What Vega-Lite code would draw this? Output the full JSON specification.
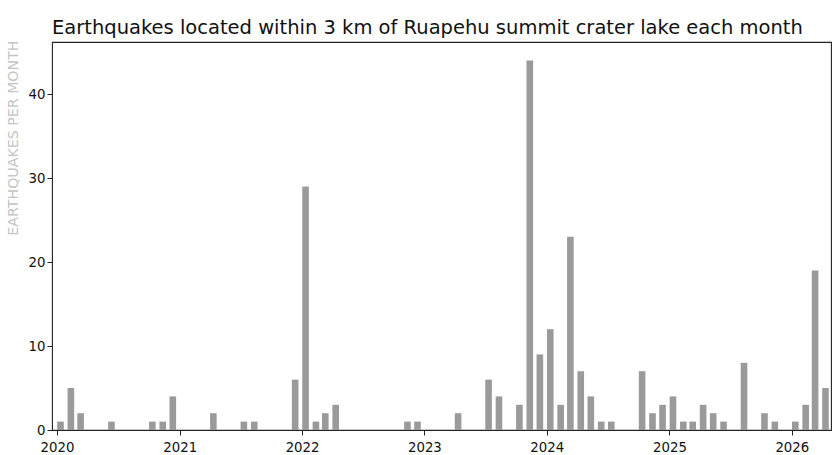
{
  "$schema": "https://vega.github.io/schema/vega-lite/v6.json",
  "width": 779,
  "height": 388,
  "autosize": {"type": "none"},
  "padding": {"left": 52, "top": 42, "right": 2, "bottom": 25},
  "background": "white",
  "title": {
    "text": "Earthquakes located within 3 km of Ruapehu summit crater lake each month",
    "anchor": "start",
    "frame": "group",
    "font": "DejaVu Sans",
    "fontSize": 19.5,
    "fontWeight": "normal",
    "color": "#111111",
    "baseline": "alphabetic",
    "offset": -13
  },
  "config": {
    "view": {"stroke": "#222222", "strokeWidth": 1.1},
    "axis": {
      "labelFont": "DejaVu Sans",
      "labelFontSize": 13.3,
      "labelColor": "#111111",
      "tickColor": "#222222",
      "tickSize": 5,
      "domain": false,
      "grid": false
    }
  },
  "data": {
    "values": [
      {"month": "2020-01-01", "count": 1}, {"month": "2020-02-01", "count": 5}, {"month": "2020-03-01", "count": 2},
      {"month": "2020-04-01", "count": 0}, {"month": "2020-05-01", "count": 0}, {"month": "2020-06-01", "count": 1},
      {"month": "2020-07-01", "count": 0}, {"month": "2020-08-01", "count": 0}, {"month": "2020-09-01", "count": 0},
      {"month": "2020-10-01", "count": 1}, {"month": "2020-11-01", "count": 1}, {"month": "2020-12-01", "count": 4},
      {"month": "2021-01-01", "count": 0}, {"month": "2021-02-01", "count": 0}, {"month": "2021-03-01", "count": 0},
      {"month": "2021-04-01", "count": 2}, {"month": "2021-05-01", "count": 0}, {"month": "2021-06-01", "count": 0},
      {"month": "2021-07-01", "count": 1}, {"month": "2021-08-01", "count": 1}, {"month": "2021-09-01", "count": 0},
      {"month": "2021-10-01", "count": 0}, {"month": "2021-11-01", "count": 0}, {"month": "2021-12-01", "count": 6},
      {"month": "2022-01-01", "count": 29}, {"month": "2022-02-01", "count": 1}, {"month": "2022-03-01", "count": 2},
      {"month": "2022-04-01", "count": 3}, {"month": "2022-05-01", "count": 0}, {"month": "2022-06-01", "count": 0},
      {"month": "2022-07-01", "count": 0}, {"month": "2022-08-01", "count": 0}, {"month": "2022-09-01", "count": 0},
      {"month": "2022-10-01", "count": 0}, {"month": "2022-11-01", "count": 1}, {"month": "2022-12-01", "count": 1},
      {"month": "2023-01-01", "count": 0}, {"month": "2023-02-01", "count": 0}, {"month": "2023-03-01", "count": 0},
      {"month": "2023-04-01", "count": 2}, {"month": "2023-05-01", "count": 0}, {"month": "2023-06-01", "count": 0},
      {"month": "2023-07-01", "count": 6}, {"month": "2023-08-01", "count": 4}, {"month": "2023-09-01", "count": 0},
      {"month": "2023-10-01", "count": 3}, {"month": "2023-11-01", "count": 44}, {"month": "2023-12-01", "count": 9},
      {"month": "2024-01-01", "count": 12}, {"month": "2024-02-01", "count": 3}, {"month": "2024-03-01", "count": 23},
      {"month": "2024-04-01", "count": 7}, {"month": "2024-05-01", "count": 4}, {"month": "2024-06-01", "count": 1},
      {"month": "2024-07-01", "count": 1}, {"month": "2024-08-01", "count": 0}, {"month": "2024-09-01", "count": 0},
      {"month": "2024-10-01", "count": 7}, {"month": "2024-11-01", "count": 2}, {"month": "2024-12-01", "count": 3},
      {"month": "2025-01-01", "count": 4}, {"month": "2025-02-01", "count": 1}, {"month": "2025-03-01", "count": 1},
      {"month": "2025-04-01", "count": 3}, {"month": "2025-05-01", "count": 2}, {"month": "2025-06-01", "count": 1},
      {"month": "2025-07-01", "count": 0}, {"month": "2025-08-01", "count": 8}, {"month": "2025-09-01", "count": 0},
      {"month": "2025-10-01", "count": 2}, {"month": "2025-11-01", "count": 1}, {"month": "2025-12-01", "count": 0},
      {"month": "2026-01-01", "count": 1}, {"month": "2026-02-01", "count": 3}, {"month": "2026-03-01", "count": 19},
      {"month": "2026-04-01", "count": 5}
    ]
  },
  "mark": {
    "type": "bar",
    "color": "#9a9a9a",
    "width": 6.6,
    "xOffset": 3.5,
    "clip": true
  },
  "encoding": {
    "x": {
      "field": "month",
      "type": "temporal",
      "scale": {
        "type": "utc",
        "domain": [
          {"year": 2020, "month": 1, "date": 1, "utc": true},
          {"year": 2026, "month": 4, "date": 13, "utc": true}
        ],
        "nice": false
      },
      "axis": {
        "title": null,
        "values": [
          {"year": 2020, "month": 1, "date": 1, "utc": true},
          {"year": 2021, "month": 1, "date": 1, "utc": true},
          {"year": 2022, "month": 1, "date": 1, "utc": true},
          {"year": 2023, "month": 1, "date": 1, "utc": true},
          {"year": 2024, "month": 1, "date": 1, "utc": true},
          {"year": 2025, "month": 1, "date": 1, "utc": true},
          {"year": 2026, "month": 1, "date": 1, "utc": true}
        ],
        "format": "%Y",
        "labelFlush": false,
        "labelOverlap": false,
        "labelPadding": 5
      }
    },
    "y": {
      "field": "count",
      "type": "quantitative",
      "scale": {"domain": [0, 46.2], "nice": false, "zero": true},
      "axis": {
        "title": "EARTHQUAKES PER MONTH",
        "titleFont": "DejaVu Sans",
        "titleFontSize": 14.2,
        "titleFontWeight": "normal",
        "titleColor": "#c4c4c4",
        "titleAngle": -90,
        "titleX": -35,
        "titleY": -2,
        "titleAlign": "right",
        "titleBaseline": "alphabetic",
        "values": [0, 10, 20, 30, 40],
        "labelPadding": 2
      }
    }
  }
}
